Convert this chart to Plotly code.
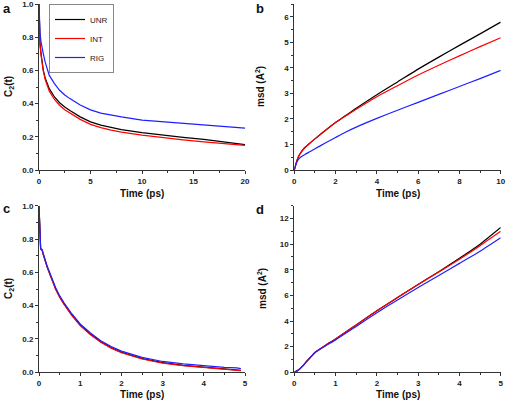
import plotly.graph_objects as go

# ---------------- data ----------------
series_names = ["UNR", "INT", "RIG"]
series_colors = ["#000000", "#ff0000", "#1f1fff"]

# panel a : C2(t), 0-20 ps
t_a = [0, 0.03, 0.06, 0.1, 0.2, 0.3, 0.42, 0.6, 0.8, 1.0, 1.5, 2.0, 2.5, 3, 4, 5, 6, 7, 8, 10, 12, 14, 16, 18, 20]
a_unr = [1.0, 0.86, 0.80, 0.76, 0.70, 0.645, 0.60, 0.555, 0.52, 0.49, 0.44, 0.405, 0.38, 0.358, 0.32, 0.29, 0.27, 0.255, 0.243, 0.225, 0.21, 0.197, 0.185, 0.17, 0.153]
a_int = [1.0, 0.85, 0.79, 0.75, 0.69, 0.64, 0.595, 0.545, 0.505, 0.475, 0.425, 0.39, 0.363, 0.342, 0.305, 0.275, 0.255, 0.24, 0.228, 0.21, 0.195, 0.182, 0.17, 0.158, 0.148]
a_rig = [1.0, 0.90, 0.85, 0.82, 0.77, 0.73, 0.70, 0.65, 0.605, 0.57, 0.52, 0.48, 0.452, 0.43, 0.392, 0.362, 0.343, 0.33, 0.32, 0.30, 0.29, 0.28, 0.272, 0.262, 0.252]

# panel b : msd, 0-10 ps
t_b = [0, 0.05, 0.1, 0.2, 0.3, 0.5, 0.75, 1, 1.5, 2, 2.5, 3, 4, 5, 6, 7, 8, 9, 10]
b_unr = [0, 0.15, 0.30, 0.52, 0.66, 0.87, 1.05, 1.22, 1.55, 1.86, 2.14, 2.42, 2.95, 3.45, 3.95, 4.42, 4.88, 5.33, 5.79]
b_int = [0, 0.15, 0.30, 0.52, 0.66, 0.87, 1.05, 1.22, 1.55, 1.86, 2.12, 2.38, 2.87, 3.30, 3.72, 4.10, 4.47, 4.83, 5.18]
b_rig = [0, 0.14, 0.26, 0.41, 0.50, 0.60, 0.715, 0.83, 1.055, 1.275, 1.49, 1.68, 2.02, 2.34, 2.65, 2.96, 3.27, 3.58, 3.90]

# panel c : C2(t), 0-5 ps
t_c = [0, 0.02, 0.04, 0.08, 0.1, 0.2, 0.3, 0.4, 0.5, 0.6, 0.8, 1.0, 1.25, 1.5, 1.75, 2.0, 2.5, 3.0, 3.5, 4.0, 4.5, 4.8, 4.9]
c_unr = [1.0, 0.85, 0.74, 0.73, 0.71, 0.63, 0.563, 0.503, 0.453, 0.413, 0.343, 0.283, 0.228, 0.184, 0.149, 0.12, 0.083, 0.058, 0.042, 0.03, 0.02, 0.014, 0.012]
c_int = [1.0, 0.85, 0.74, 0.73, 0.71, 0.63, 0.56, 0.50, 0.45, 0.41, 0.34, 0.28, 0.225, 0.18, 0.145, 0.117, 0.08, 0.055, 0.04, 0.028, 0.018, 0.012, 0.01]
c_rig = [1.0, 0.86, 0.745, 0.735, 0.715, 0.637, 0.57, 0.51, 0.46, 0.42, 0.35, 0.29, 0.236, 0.19, 0.155, 0.127, 0.09, 0.065, 0.05, 0.038, 0.03, 0.027, 0.022]

# panel d : msd, 0-5 ps
t_d = [0, 0.1, 0.2, 0.3, 0.4, 0.5, 0.75, 1, 1.5, 2, 2.5, 3, 3.5, 4, 4.5, 5]
d_unr = [0, 0.18, 0.48, 0.85, 1.20, 1.55, 2.10, 2.60, 3.70, 4.80, 5.83, 6.85, 7.85, 8.90, 10.0, 11.3]
d_int = [0, 0.18, 0.48, 0.85, 1.20, 1.55, 2.10, 2.60, 3.70, 4.80, 5.83, 6.85, 7.82, 8.82, 9.88, 11.0]
d_rig = [0, 0.18, 0.48, 0.85, 1.20, 1.54, 2.06, 2.53, 3.58, 4.64, 5.65, 6.62, 7.55, 8.50, 9.45, 10.5]

panels = [
    (t_a, [a_unr, a_int, a_rig], "x", "y", "linear"),
    (t_b, [b_unr, b_int, b_rig], "x2", "y2", "spline"),
    (t_c, [c_unr, c_int, c_rig], "x3", "y3", "linear"),
    (t_d, [d_unr, d_int, d_rig], "x4", "y4", "spline"),
]

fig = go.Figure()
for pi, (tx, ys, xa, ya, shp) in enumerate(panels):
    for name, col, yv in zip(series_names, series_colors, ys):
        line = dict(color=col, width=1.2, shape=shp)
        if shp == "spline":
            line["smoothing"] = 0.6
        fig.add_trace(go.Scatter(
            x=tx, y=yv, name=name, mode="lines", line=line,
            xaxis=xa, yaxis=ya, showlegend=(pi == 0),
        ))

FONT = "Liberation Sans, Arial, sans-serif"
AX = "#333333"

def axis(rng, dtick, minor_dtick, domain, anchor, fmt=None):
    d = dict(
        range=rng, dtick=dtick, domain=domain, anchor=anchor,
        showline=True, linecolor=AX, linewidth=1,
        ticks="outside", ticklen=3, tickcolor=AX, tickwidth=1,
        showgrid=False, zeroline=False, ticklabeloverflow="allow",
        automargin=False,
        tickfont=dict(size=8, family=FONT, color="#222222", weight="bold"),
        minor=dict(ticks="outside", ticklen=2, tickcolor=AX, dtick=minor_dtick, showgrid=False),
    )
    if fmt:
        d["tickformat"] = fmt
    return d

xl = [39 / 506, 245 / 506]
xr = [294.3 / 506, 500.7 / 506]
yt = [1 - 170 / 402, 1 - 4 / 402]
yb = [1 - 372.3 / 402, 1 - 205.7 / 402]

fig.update_layout(
    width=506, height=402,
    margin=dict(l=0, r=0, t=0, b=0, pad=0, autoexpand=False),
    paper_bgcolor="white", plot_bgcolor="white",
    font=dict(family=FONT, color="#222222"),
    xaxis=axis([0, 20], 5, 2.5, xl, "y"),
    yaxis=axis([0, 1.0], 0.2, 0.1, yt, "x", ".1f"),
    xaxis2=axis([0, 10], 2, 1, xr, "y2"),
    yaxis2=axis([0, 6.5], 1, 0.5, yt, "x2"),
    xaxis3=axis([0, 5], 1, 0.5, xl, "y3"),
    yaxis3=axis([0, 1.0], 0.2, 0.1, yb, "x3", ".1f"),
    xaxis4=axis([0, 5], 1, 0.5, xr, "y4"),
    yaxis4=axis([0, 13], 2, 1, yb, "x4"),
    showlegend=True,
    legend=dict(
        x=49 / 506, y=1 - 4 / 402, xanchor="left", yanchor="top",
        bgcolor="white", bordercolor="#888888", borderwidth=1,
        font=dict(size=8, family=FONT, color="#222222"),
        itemwidth=30, tracegroupgap=0,
    ),
)

def ann(text, x, y, size, angle=0, bold=True):
    fig.add_annotation(
        text=text, x=x / 506, y=1 - y / 402, xref="paper", yref="paper",
        showarrow=False, textangle=angle, xanchor="center", yanchor="middle",
        font=dict(size=size, family=FONT, color="#111111", weight="bold" if bold else "normal"),
    )

# axis titles
ann("Time (ps)", 142, 193, 10)
ann("Time (ps)", 397.5, 193, 10)
ann("Time (ps)", 142, 394, 10)
ann("Time (ps)", 397.5, 394, 10)
ann("C<sub>2</sub>(t)", 9, 87, 10, -90)
ann("msd (A<sup>2</sup>)", 260, 87, 10, -90)
ann("C<sub>2</sub>(t)", 9, 289, 10, -90)
ann("msd (A<sup>2</sup>)", 262, 289, 10, -90)

# panel letters
ann("a", 7, 8, 13)
ann("b", 260, 9, 13)
ann("c", 6, 208, 13)
ann("d", 260, 210, 13)

fig.write_html(
    "out.html",
    config={"displayModeBar": False},
    post_script="document.body.style.margin='0';document.body.style.padding='0';document.body.style.overflow='hidden';",
)
